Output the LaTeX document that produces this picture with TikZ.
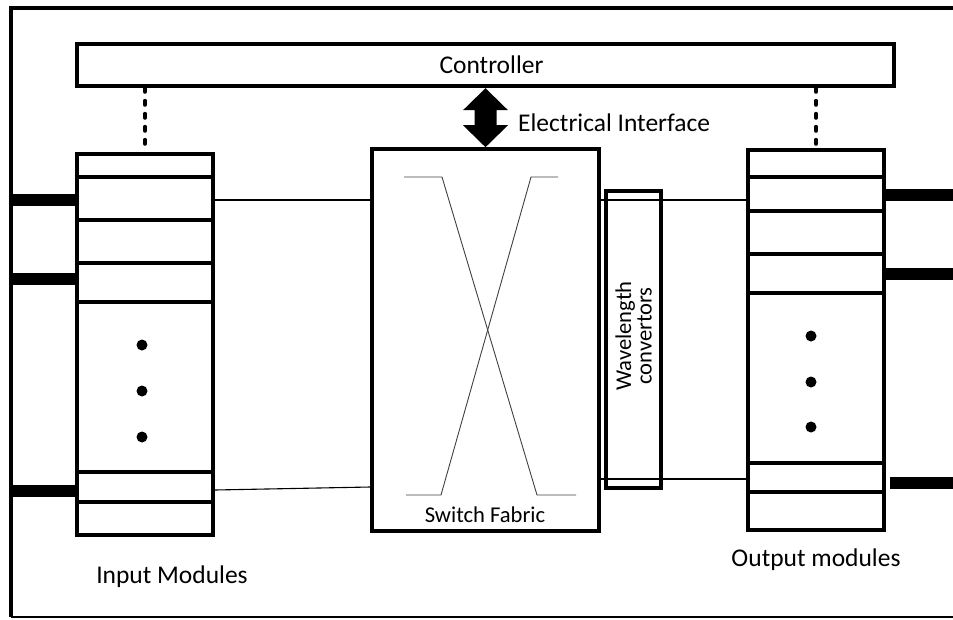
\documentclass[tikz,border=0pt]{standalone}
\usepackage{fontspec}
\setmainfont{Carlito}
\usetikzlibrary{calc}
\begin{document}
\begin{tikzpicture}[x=1pt,y=-1pt,
  box/.style={draw, line width=3.6pt, inner sep=0pt},
  divider/.style={line width=3.4pt},
  bar/.style={line width=12pt},
  link/.style={line width=1.1pt},
  xline/.style={line width=0.9pt, black!75},
  dotted link/.style={line width=4pt, dash pattern=on 4pt off 9pt, line cap=round},
  big/.style={font=\fontsize{25.5}{30}\selectfont},
  small/.style={font=\fontsize{22.6}{20.5}\selectfont}]
\useasboundingbox (0,0) rectangle (953,619);

% outer frame
\coordinate (ftr) at (953,8);
\coordinate (ftl) at (10.5,8);
\coordinate (fbl) at (10.5,617);
\coordinate (fbr) at (953,617);
\draw[line width=4pt] (ftr) -- (ftl) -- (fbl);
\draw[line width=2pt] (fbl) -- (fbr);

% boxes
\node[box, big, minimum width=817pt, minimum height=42pt] (ctrl) at (485.5,65) {\hspace*{12pt}Controller};
\node[box, minimum width=136pt, minimum height=381pt] (inp) at (145,344.5) {};
\node[box, minimum width=227pt, minimum height=382pt] (sw) at (485.5,340) {};
\node[box, minimum width=55pt, minimum height=297pt] (wc) at (633.5,339.5) {};
\node[box, minimum width=136pt, minimum height=380pt] (out) at (816,340) {};

% dividers
\foreach \y in {177,220,263,302,472,502}
  \draw[divider] (inp.west |- 0,\y) -- (inp.east |- 0,\y);
\foreach \y in {177,211,254,293,463,492}
  \draw[divider] (out.west |- 0,\y) -- (out.east |- 0,\y);

% dots
\foreach \y in {345,391,437} \fill (142,\y) circle (5.5pt);
\foreach \y in {336,382,427} \fill (811,\y) circle (5.5pt);

% dashed controller links
\draw[dotted link] (ctrl.south -| inp.north) -- (inp.north);
\draw[dotted link] (ctrl.south -| out.north) -- (out.north);

% electrical interface double arrow
\coordinate (at) at ($(sw.north)+(0,-59)$);
\fill (at) -- ++(22.5,22) -- ++(-11.5,0) -- ++(0,15) -- ++(11.5,0)
  -- (sw.north) -- ++(-22.5,-22) -- ++(11.5,0) -- ++(0,-15) -- ++(-11.5,0) -- cycle;

% thick fibre bars
\foreach \y in {200,279,491}
  \draw[bar] (ftl |- 0,\y) -- (inp.west |- 0,\y);
\coordinate (r1) at (953,195);
\coordinate (r2) at (953,274);
\coordinate (r3) at (953,483);
\draw[bar] (out.east |- r1) -- (r1);
\draw[bar] (out.east |- r2) -- (r2);
\draw[bar] ($(out.east |- r3)+(4,0)$) -- (r3);

% links
\draw[link] (inp.east |- 0,200) -- (sw.west |- 0,200);
\draw[link] (inp.east |- 0,490) -- (sw.west |- 0,487);
\draw[link] (sw.east |- 0,200) -- (out.west |- 0,200);
\draw[link] (sw.east |- 0,479) -- (out.west |- 0,479);

% crossing inside switch fabric
\draw[xline] (404,177) -- (442,177) -- (537,495) -- (576,495);
\draw[xline] (558,177) -- (531,177) -- (441,495) -- (406,495);

% labels
\node[small, inner sep=0pt] (sfl) at (485,515) {Switch Fabric};
\node[small, inner sep=0pt, rotate=90, align=center] (wcl) at (633.5,336) {Wavelength\\convertors};
\node[big, inner sep=0pt, anchor=west] (eil) at (518,123) {Electrical Interface};
\node[big, inner sep=0pt] (inl) at (172,577) {Input Modules};
\node[big, inner sep=0pt] (outl) at (816,560) {Output modules};
\end{tikzpicture}
\end{document}
